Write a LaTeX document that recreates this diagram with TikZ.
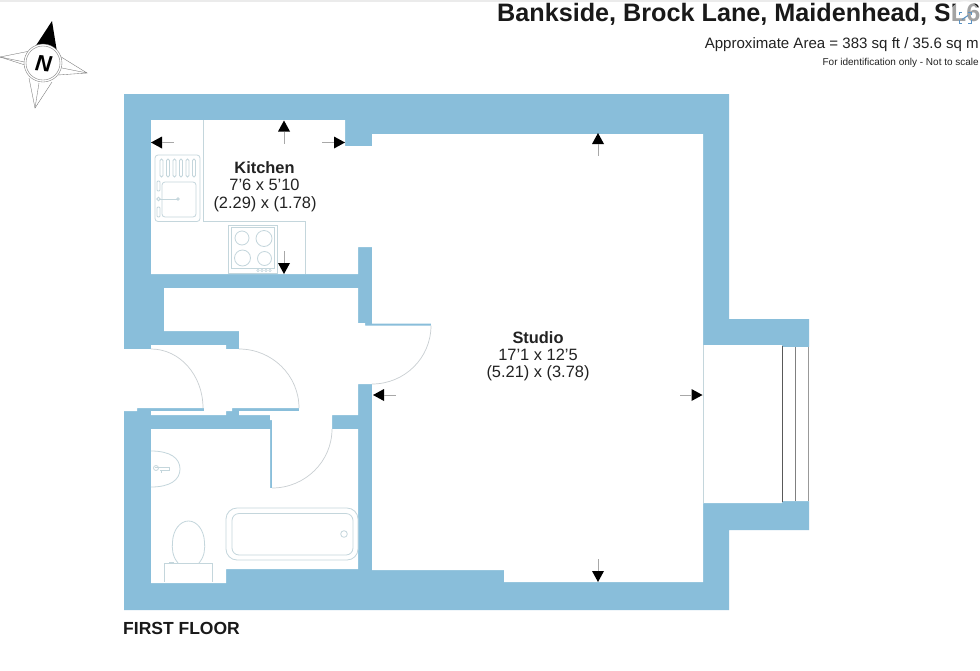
\documentclass[tikz,border=0pt]{standalone}
\usepackage{fontspec}
\setmainfont{Liberation Sans}
\definecolor{wallblue}{HTML}{89BEDA}
\definecolor{fixline}{HTML}{C4D6DC}
\definecolor{arcgrey}{HTML}{C9CFD2}
\definecolor{stemgrey}{HTML}{A8A8A8}
\definecolor{textdark}{HTML}{222222}
\definecolor{linkblue}{HTML}{5B93C4}
\tikzset{
  fixture/.style={draw=fixline,line width=0.8pt,fill=none},
  doorarc/.style={draw=arcgrey,line width=0.7pt},
  roomname/.style={font=\bfseries\fontsize{16.4}{16}\selectfont,text=textdark,inner sep=0pt,anchor=base},
  roomdim/.style={font=\fontsize{16.4}{16}\selectfont,text=textdark,inner sep=0pt,anchor=base},
  compassline/.style={draw=black!55,line width=0.35pt},
  dimarrow/.pic={
    \fill[black] (0,0) -- (-11,-6) -- (-11,6) -- cycle;
    \draw[stemgrey,line width=0.7pt] (-11,0) -- (-23,0);
  }
}
\begin{document}
\begin{tikzpicture}[x=1pt,y=-1pt]
\useasboundingbox (0,0) rectangle (980,670);
\clip (0,0) rectangle (980,670);
\fill[white] (0,0) rectangle (980,670);
\fill[black!8] (0,0) rectangle (980,1.5);

% walls
\fill[wallblue] (124,94) -- (729,94) -- (729,319) -- (809,319) -- (809,530) -- (729,530) -- (729,610) -- (124,610) -- cycle;
\fill[white] (151,120) -- (345,120) -- (345,146) -- (372,146) -- (372,134) -- (703,134) -- (703,345)
  -- (782,345) -- (782,347) -- (810,347) -- (810,501) -- (782,501) -- (782,503) -- (703,503)
  -- (703,582) -- (504,582) -- (504,570) -- (372,570) -- (372,384) -- (358,384) -- (358,415)
  -- (332,415) -- (332,429) -- (358,429) -- (358,569) -- (226,569) -- (226,583) -- (151,583)
  -- (151,429) -- (270,429) -- (270,488) -- (272,488) -- (272,420) -- (270,420) -- (270,415)
  -- (239,415) -- (239,411) -- (299,411) -- (299,408) -- (232,408) -- (232,411) -- (226,411)
  -- (226,415) -- (151,415) -- (151,411) -- (204,411) -- (204,408) -- (137,408) -- (137,411)
  -- (123,411) -- (123,349) -- (151,349) -- (151,345) -- (226,345) -- (226,349) -- (239,349)
  -- (239,331) -- (164,331) -- (164,288) -- (358,288) -- (358,323) -- (365,323) -- (365,325.5)
  -- (431,325.5) -- (431,323.5) -- (372,323.5) -- (372,247) -- (358,247) -- (358,274) -- (151,274) -- cycle;

% door swings
\draw[doorarc] (431,325.5) .. controls (431,358) and (404.6,384) .. (372,384);
\draw[doorarc] (151,349) .. controls (180,349) and (203,375.4) .. (203,408);
\draw[doorarc] (239,349) .. controls (272,349) and (299,375.4) .. (299,408);
\draw[doorarc] (332,429) .. controls (332,461.6) and (305,488) .. (272,488);

% window
\draw[fixline,line width=0.8pt] (703,345) -- (703,503);
\draw[black!65,line width=0.8pt] (782.5,346) -- (782.5,502);
\draw[black!50,line width=0.7pt] (795.5,347) -- (795.5,501);
\draw[black!40,line width=0.7pt] (808.5,347) -- (808.5,501);

% kitchen units
\draw[fixture] (203.5,120) -- (203.5,221.5) -- (305,221.5) -- (305,274);
\draw[fixture,rounded corners=3pt] (155,155) rectangle (200,221.5);
\foreach \sx in {161.5,168,174.5,181,187.5,194}
  \draw[fixture,rounded corners=1.5pt] (\sx-1.5,159) rectangle (\sx+1.5,177);
\draw[fixture,rounded corners=3pt] (162,182) rectangle (196,217);
\draw[fixture] (158.5,199) -- (178,199);
\draw[fixture] (178,199) circle (1.3);
\draw[fixture] (158.5,199) circle (1.8);
\draw[fixture,rounded corners=1pt] (157,181) rectangle (160,191);
\draw[fixture,rounded corners=1pt] (157,207) rectangle (160,217);
% hob
\draw[fixture] (228,225) rectangle (277,273);
\draw[fixture] (231,227.5) rectangle (274.5,268);
\draw[fixture] (242,238) circle (7);
\draw[fixture] (264,238.5) circle (8);
\draw[fixture] (242.5,258) circle (8);
\draw[fixture] (264.5,258.5) circle (7);
\foreach \kx in {258,262,266,270} \draw[fixture,line width=0.5pt] (\kx,270.5) circle (1.2);

% bathroom
\draw[fixture] (151,451) .. controls (170,451) and (180,458) .. (180,469) .. controls (180,480) and (170,487) .. (151,487);
\draw[fixture] (155,467.5) -- (169,467.5) -- (169,470) -- (160,470);
\draw[fixture] (156,468) circle (2.5);
\draw[fixture] (161,471) -- (161,473);
\draw[fixture,rounded corners=11pt] (226,508) rectangle (358,560);
\draw[fixture,rounded corners=7pt] (232,513.5) rectangle (353,555);
\draw[fixture] (344,534) circle (3.3);
\draw[fixture] (178,563) .. controls (172,556) and (172,548) .. (172.5,542) .. controls (173,530) and (180,521) .. (188.5,521) .. controls (197,521) and (204,530) .. (204.5,542) .. controls (205,548) and (205,556) .. (199,563);
\draw[fixture] (164,563) -- (212,563);
\draw[fixture] (164,563) -- (164,582);
\draw[fixture] (212,563) -- (212,582);
\draw[fixture] (169,562) -- (174,562);

% arrows
\pic[rotate=180] at (151,142.5) {dimarrow};
\pic[rotate=90] at (284,120.5) {dimarrow};
\pic at (345,142.5) {dimarrow};
\pic[rotate=-90] at (284,274) {dimarrow};
\pic[rotate=90] at (598,133) {dimarrow};
\pic[rotate=-90] at (598,582) {dimarrow};
\pic[rotate=180] at (373,395) {dimarrow};
\pic at (702.5,395) {dimarrow};

% room labels
\node[roomname] (kitchenname) at (264.5,173) {Kitchen};
\node[roomdim] (kitchendim) at (264.5,190) {7'6 x 5'10};
\node[roomdim] (kitchenmetric) at (265,208) {(2.29) x (1.78)};
\node[roomname] (studioname) at (538,343) {Studio};
\node[roomdim] (studiodim) at (538,360) {17'1 x 12'5};
\node[roomdim] (studiometric) at (538,377) {(5.21) x (3.78)};

% headings
\node[font=\bfseries\fontsize{25.2}{25}\selectfont,text=black!90,inner sep=0pt,anchor=base west] (title) at (497,21) {Bankside, Brock Lane, Maidenhead, SL6};
\node[font=\fontsize{15.05}{15}\selectfont,text=textdark,inner sep=0pt,anchor=base east] (area) at (979,48) {Approximate Area = 383 sq ft / 35.6 sq m};
\node[font=\fontsize{10}{10}\selectfont,text=textdark,inner sep=0pt,anchor=base east] (ident) at (979,65) {For identification only - Not to scale};
\node[font=\bfseries\fontsize{17.5}{17}\selectfont,text=black!90,inner sep=0pt,anchor=base west] (floor) at (123,634) {FIRST FLOOR};

% link badge over the title
\fill[white,opacity=0.6] (965,17) circle (16);
\draw[linkblue,line width=1pt] (959,15) -- (959,12) -- (962,12);
\draw[linkblue,line width=1pt] (968,12) -- (971,12) -- (971,15);
\draw[linkblue,line width=1pt] (959,20) -- (959,23) -- (962,23);
\draw[linkblue,line width=1pt] (968,23) -- (971,23) -- (971,20);
\draw[linkblue,line width=1pt] (962,19.5) -- (968,15.5);

% compass
\fill[black] (35,47) -- (52,21) -- (57,52) -- cycle;
\draw[compassline] (30,51) -- (0,57) -- (25,65);
\draw[compassline] (0,57) -- (24.5,62);
\draw[compassline] (58,55) -- (87,73) -- (58,75);
\draw[compassline] (62,68) -- (87,73);
\draw[compassline] (29,78) -- (35,108) -- (52,82);
\draw[compassline] (39,83) -- (35,108);
\draw[compassline,fill=white] (43,63) circle (19);
\draw[compassline] (43,63) circle (17);
\node[font=\bfseries\itshape\fontsize{22.5}{22}\selectfont,text=black,inner sep=0pt,rotate=-6] (north) at (43.5,64) {N};
\end{tikzpicture}
\end{document}
